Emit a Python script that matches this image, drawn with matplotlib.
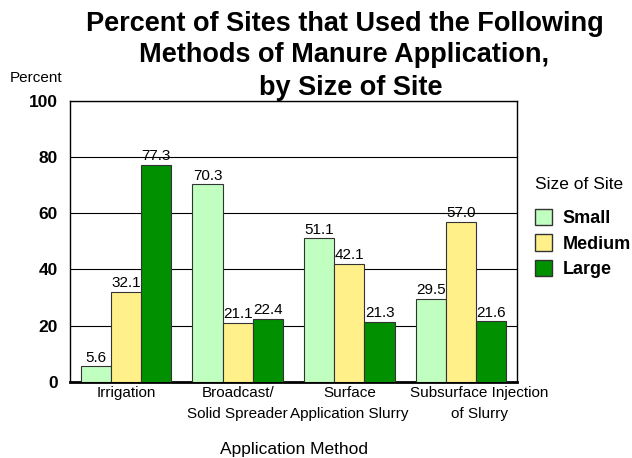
import numpy as np
import matplotlib.pyplot as plt
from matplotlib.patches import Patch
from matplotlib.transforms import ScaledTranslation

plt.rcParams['font.family'] = ['Liberation Sans', 'DejaVu Sans']

methods = ["Irrigation", "Broadcast/\nSolid Spreader", "Surface\nApplication Slurry",
           "Subsurface Injection\nof Slurry"]
sizes = ["Small", "Medium", "Large"]
small = [5.6, 70.3, 51.1, 29.5]
medium = [32.1, 21.1, 42.1, 57.0]
large = [77.3, 22.4, 21.3, 21.6]
colors = ["#c0ffc0", "#fff08a", "#009000"]
title_lines = ["Percent of Sites that Used the Following",
               "Methods of Manure Application,",
               "by Size of Site"]

fig = plt.figure(figsize=(6.32, 4.58), dpi=100)
ax = fig.add_axes([0.111, 0.166, 0.707, 0.614])

x = np.arange(len(methods))
w = 0.27
for i, (vals, c) in enumerate(zip([small, medium, large], colors)):
    bars = ax.bar(x + (i - 1) * w, vals, w, color=c, edgecolor="#333333",
                  linewidth=0.8, zorder=3)
    for b, v in zip(bars, vals):
        ax.text(b.get_x() + b.get_width() / 2, v + 0.6, f"{v:.1f}",
                ha="center", va="bottom", fontsize=11, zorder=4)

ax.set_xlim(-0.5, 3.5)
ax.set_ylim(0, 100)
ax.set_yticks([0, 20, 40, 60, 80, 100])
ax.set_yticklabels(["0", "20", "40", "60", "80", "100"], fontsize=12.5, fontweight="bold")
ax.set_xticks(x)
ax.set_xticklabels(methods, fontsize=11, linespacing=1.65)
ax.tick_params(axis="x", length=0, pad=3)
ax.tick_params(axis="y", length=0, pad=9)
# last category label sits a bit right of its bars in the original
last = ax.get_xticklabels()[-1]
last.set_transform(last.get_transform() + ScaledTranslation(0.18, 0, fig.dpi_scale_trans))
ax.yaxis.grid(True, color="black", linewidth=0.8, zorder=0)
for s in ax.spines.values():
    s.set_linewidth(1.0)
ax.spines["bottom"].set_linewidth(2)
ax.set_xlabel("Application Method", fontsize=12.5, labelpad=15)

fig.text(0.016, 0.82, "Percent", fontsize=11)
for txt, xc, yc in zip(title_lines, [0.545, 0.545, 0.555], [0.948, 0.881, 0.808]):
    fig.text(xc, yc, txt, ha="center", va="center", fontsize=19.5, fontweight="bold")

handles = [Patch(facecolor=c, edgecolor="#333333", label=s) for s, c in zip(sizes, colors)]
leg = fig.legend(handles=handles, loc="upper left", bbox_to_anchor=(0.846, 0.613),
                 frameon=False, title="Size of Site", title_fontsize=12.5,
                 prop={"size": 13, "weight": "bold"}, handlelength=0.95,
                 handleheight=1.0, labelspacing=0.4, handletextpad=0.6,
                 borderpad=0, borderaxespad=0)
leg._legend_box.align = "left"
leg._legend_box.sep = 12

fig.savefig("out.png", dpi=100)
